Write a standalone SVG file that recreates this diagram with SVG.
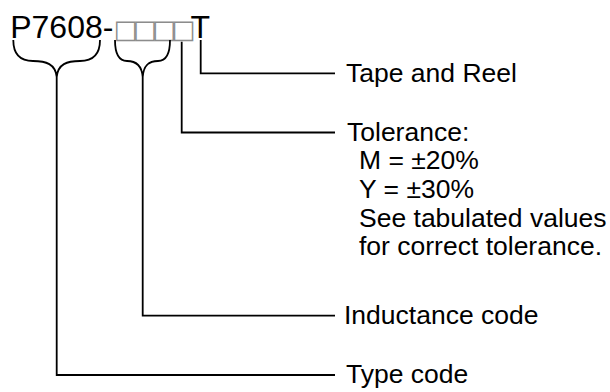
<svg xmlns="http://www.w3.org/2000/svg" width="610" height="392" viewBox="0 0 610 392">
<style>
.t{font-family:"Liberation Sans",Arial,sans-serif;fill:#000}
.lbl{font-size:26.5px}
.title{font-size:32px}
.box{font-family:"DejaVu Sans",sans-serif;font-size:25.5px;letter-spacing:-4.8px;fill:#8c8c8c}
.ln{fill:none;stroke:#000;stroke-width:1.8}
</style>
<rect width="610" height="392" fill="#fff"/>
<g id="part-number">
<text class="t title" x="10.2" y="38">P7608-<tspan class="box">□□□□</tspan>T</text>
</g>
<g id="connectors">
<path class="ln" d="M13.3,40 C13.3,54 20,61 33,61 C46,61 55.5,64 56.7,77 C57.9,64 67,61 80,61 C93,61 100,54 100,40"/>
<path class="ln" d="M115,40 C115,54 119,61 127,61 C135,61 141.7,64 142.7,77 C143.7,64 150,61 158,61 C166,61 170,54 170,40"/>
<path class="ln" d="M56.7,77 V375 H335"/>
<path class="ln" d="M142.7,77 V315.7 H335"/>
<path class="ln" d="M181.7,41.7 V132.5 H335"/>
<path class="ln" d="M200.7,40 V73.3 H335"/>
</g>
<g id="tape-and-reel">
<text class="t lbl" x="346" y="81.5">Tape and Reel</text>
</g>
<g id="tolerance">
<text class="t lbl" x="347" y="140.7">Tolerance:</text>
<text class="t lbl" x="359" y="169.3">M = ±20%</text>
<text class="t lbl" x="359" y="198">Y = ±30%</text>
<text class="t lbl" x="359" y="226.7">See tabulated values</text>
<text class="t lbl" x="359" y="255.3">for correct tolerance.</text>
</g>
<g id="inductance-code">
<text class="t lbl" x="344" y="324">Inductance code</text>
</g>
<g id="type-code">
<text class="t lbl" x="346" y="383">Type code</text>
</g>
</svg>
